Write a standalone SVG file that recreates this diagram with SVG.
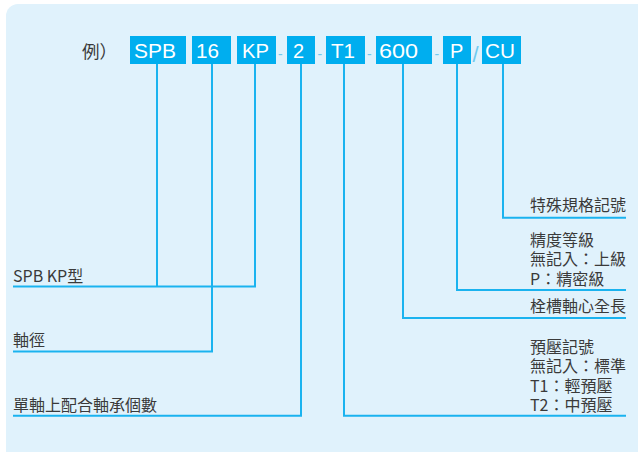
<svg xmlns="http://www.w3.org/2000/svg" width="638" height="452" viewBox="0 0 638 452">
<style>
.bg{fill:#e0f2fc}
.box{fill:#00aeef}
.code{font-family:"Liberation Sans",Arial,sans-serif;font-size:20px;fill:#ffffff}
.sep{font-family:"Liberation Sans",Arial,sans-serif;fill:#6fcaf0}
.lbl{font-family:"Noto Sans CJK TC","Noto Sans CJK SC",sans-serif;font-size:16px;fill:#3a3a3a}
.ln{fill:none;stroke:#1ab3ef;stroke-width:2;stroke-linejoin:miter;stroke-linecap:butt}
</style>
<rect class="bg" x="6" y="4" width="660" height="460" rx="12" ry="12"/>
<text x="82" y="58" font-family="'Noto Sans CJK TC','Noto Sans CJK SC',sans-serif" font-size="17.5" fill="#3a3a3a">例）</text>

<g id="code-spb"><rect class="box" x="130" y="36" width="56" height="28"/><text class="code" x="134" y="58" textLength="42" lengthAdjust="spacingAndGlyphs">SPB</text></g>
<g id="code-16"><rect class="box" x="192" y="36" width="39" height="28"/><text class="code" x="196" y="58" textLength="23" lengthAdjust="spacingAndGlyphs">16</text></g>
<g id="code-kp"><rect class="box" x="237" y="36" width="39" height="28"/><text class="code" x="242" y="58" textLength="27" lengthAdjust="spacingAndGlyphs">KP</text></g>
<text class="sep" x="278" y="59" font-size="14">-</text>
<g id="code-2"><rect class="box" x="287" y="36" width="28" height="28"/><text class="code" x="293" y="58">2</text></g>
<text class="sep" x="317.5" y="59" font-size="14">-</text>
<g id="code-t1"><rect class="box" x="326" y="36" width="39" height="28"/><text class="code" x="331" y="58" textLength="24" lengthAdjust="spacingAndGlyphs">T1</text></g>
<text class="sep" x="367" y="59" font-size="14">-</text>
<g id="code-600"><rect class="box" x="376" y="36" width="56" height="28"/><text class="code" x="379" y="58" textLength="39" lengthAdjust="spacingAndGlyphs">600</text></g>
<text class="sep" x="434.5" y="59" font-size="14">-</text>
<g id="code-p"><rect class="box" x="443" y="36" width="28" height="28"/><text class="code" x="450" y="58">P</text></g>
<text class="sep" x="472.5" y="62" font-size="22">/</text>
<g id="code-cu"><rect class="box" x="482" y="36" width="39" height="28"/><text class="code" x="485" y="58" textLength="30" lengthAdjust="spacingAndGlyphs">CU</text></g>

<g id="connectors">
<polyline class="ln" points="157,64 157,286.5"/>
<polyline class="ln" points="13,286.5 255,286.5 255,64"/>
<polyline class="ln" points="13,351.5 212,351.5 212,64"/>
<polyline class="ln" points="13,415.7 301,415.7 301,64"/>
<polyline class="ln" points="626,415.7 344,415.7 344,64"/>
<polyline class="ln" points="626,318 403,318 403,64"/>
<polyline class="ln" points="626,290 457,290 457,64"/>
<polyline class="ln" points="626,217.7 503,217.7 503,64"/>
</g>

<g id="label-type"><text class="lbl" x="13" y="281.5">SPB KP型</text></g>
<g id="label-shaft"><text class="lbl" x="13" y="345.5">軸徑</text></g>
<g id="label-count"><text class="lbl" x="13" y="410.5">單軸上配合軸承個數</text></g>
<g id="label-special"><text class="lbl" x="530" y="211">特殊規格記號</text></g>
<g id="label-precision"><text class="lbl" x="530" y="245.5">精度等級</text><text class="lbl" x="530" y="265">無記入：上級</text><text class="lbl" x="530" y="284.5">P：精密級</text></g>
<g id="label-length"><text class="lbl" x="530" y="312">栓槽軸心全長</text></g>
<g id="label-preload"><text class="lbl" x="530" y="353">預壓記號</text><text class="lbl" x="530" y="372.3">無記入：標準</text><text class="lbl" x="530" y="391.6">T1：輕預壓</text><text class="lbl" x="530" y="411">T2：中預壓</text></g>
</svg>
